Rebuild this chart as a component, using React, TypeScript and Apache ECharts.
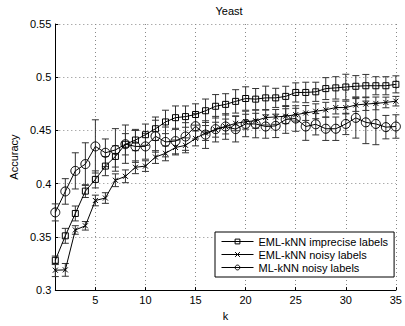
import React, { useEffect, useRef } from "react";
import * as echarts from "echarts";

const kValues = [1, 2, 3, 4, 5, 6, 7, 8, 9, 10, 11, 12, 13, 14, 15, 16, 17, 18, 19, 20, 21, 22, 23, 24, 25, 26, 27, 28, 29, 30, 31, 32, 33, 34, 35];

const impreciseMean = [0.328, 0.351, 0.372, 0.393, 0.404, 0.4165, 0.4256, 0.437, 0.441, 0.446, 0.4516, 0.458, 0.462, 0.463, 0.465, 0.4685, 0.4727, 0.4745, 0.4773, 0.48, 0.4794, 0.4806, 0.4806, 0.482, 0.4857, 0.4857, 0.4863, 0.4893, 0.49, 0.4908, 0.4915, 0.492, 0.492, 0.492, 0.4933];
const impreciseErr = [0.004, 0.007, 0.007, 0.006, 0.008, 0.009, 0.01, 0.01, 0.01, 0.01, 0.011, 0.011, 0.011, 0.01, 0.01, 0.011, 0.011, 0.01, 0.011, 0.011, 0.01, 0.011, 0.009, 0.0095, 0.009, 0.0096, 0.009, 0.0103, 0.0105, 0.012, 0.01, 0.0106, 0.0085, 0.0085, 0.008];

const noisyMean = [0.3187, 0.319, 0.3565, 0.3604, 0.3842, 0.3865, 0.4032, 0.4069, 0.4154, 0.4165, 0.425, 0.4285, 0.434, 0.436, 0.4425, 0.4476, 0.4507, 0.4537, 0.4567, 0.4582, 0.4591, 0.4621, 0.4627, 0.4634, 0.4648, 0.4664, 0.468, 0.4694, 0.4715, 0.4715, 0.4739, 0.4748, 0.4754, 0.4763, 0.4775];
const noisyErr = [0.006, 0.006, 0.004, 0.004, 0.005, 0.005, 0.006, 0.006, 0.006, 0.005, 0.006, 0.007, 0.007, 0.007, 0.007, 0.007, 0.007, 0.007, 0.007, 0.007, 0.007, 0.007, 0.007, 0.007, 0.006, 0.007, 0.007, 0.007, 0.006, 0.006, 0.006, 0.006, 0.006, 0.005, 0.0045];

const mlMean = [0.373, 0.3927, 0.412, 0.4184, 0.435, 0.429, 0.4317, 0.4371, 0.435, 0.435, 0.4446, 0.4392, 0.44, 0.4443, 0.454, 0.4461, 0.4512, 0.4537, 0.4512, 0.4561, 0.4561, 0.4537, 0.4543, 0.4603, 0.4612, 0.4537, 0.4558, 0.4516, 0.4516, 0.4561, 0.4618, 0.4576, 0.4561, 0.4531, 0.4537];
const mlErr = [0.008, 0.012, 0.017, 0.02, 0.025, 0.013, 0.02, 0.018, 0.015, 0.012, 0.015, 0.014, 0.012, 0.013, 0.012, 0.013, 0.012, 0.012, 0.012, 0.012, 0.013, 0.011, 0.011, 0.013, 0.012, 0.013, 0.01, 0.011, 0.011, 0.01, 0.019, 0.02, 0.0195, 0.011, 0.011];

const xTicks = [5, 10, 15, 20, 25, 30, 35];
const seriesNames = ["EML-kNN imprecise labels", "EML-kNN noisy labels", "ML-kNN noisy labels"];

const FONT = "'Liberation Sans', Arial, Helvetica, sans-serif";

function errData(mean: number[], err: number[]) {
  return kValues.map((k, i) => [k, mean[i], mean[i] - err[i], mean[i] + err[i]]);
}

function renderErr(params: any, api: any) {
  const x = api.value(0);
  const lo = api.coord([x, api.value(2)]);
  const hi = api.coord([x, api.value(3)]);
  const cap = 3.5;
  const style = { stroke: "#333", lineWidth: 1, fill: "none" };
  return {
    type: "group",
    children: [
      { type: "line", shape: { x1: lo[0], y1: lo[1], x2: hi[0], y2: hi[1] }, style },
      { type: "line", shape: { x1: lo[0] - cap, y1: lo[1], x2: lo[0] + cap, y2: lo[1] }, style },
      { type: "line", shape: { x1: hi[0] - cap, y1: hi[1], x2: hi[0] + cap, y2: hi[1] }, style },
    ],
  };
}

export default function App() {
  const ref = useRef<HTMLDivElement>(null);
  useEffect(() => {
    if (!ref.current) return;
    const chart = echarts.init(ref.current, null, { renderer: "svg" });
    const lineCommon = (name: string, data: number[], symbol: string, size: number) => ({
      name,
      type: "line",
      data: kValues.map((k, i) => [k, data[i]]),
      symbol,
      symbolSize: size,
      z: 5,
      lineStyle: { color: "#000", width: 1 },
      itemStyle: { color: "transparent", borderColor: "#000", borderWidth: 1 },
      emphasis: { disabled: true },
    });
    chart.setOption({
      animation: false,
      title: {
        text: "Yeast",
        left: 224,
        textAlign: "center",
        top: 0,
        textStyle: { fontFamily: FONT, fontSize: 11, fontWeight: "normal", color: "#000" },
      },
      grid: { left: 48, right: 6, top: 24, bottom: 26, containLabel: false },
      legend: {
        orient: "vertical",
        left: 215,
        top: 232,
        data: seriesNames,
        backgroundColor: "#fff",
        borderColor: "#000",
        borderWidth: 1,
        borderRadius: 0,
        padding: [4, 6, 4, 6],
        itemGap: 2,
        itemWidth: 32,
        itemHeight: 6,
        itemStyle: { borderWidth: 1 },
        lineStyle: { width: 1 },
        textStyle: { fontFamily: FONT, fontSize: 11, color: "#000" },
      },
      xAxis: {
        type: "value",
        min: 1,
        max: 35,
        name: "k",
        nameLocation: "middle",
        nameGap: 14,
        nameTextStyle: { fontFamily: FONT, fontSize: 11, color: "#000" },
        axisLine: { onZero: false, lineStyle: { color: "#000", width: 1 } },
        axisTick: { inside: true, length: 3, customValues: xTicks, lineStyle: { color: "#000" } },
        axisLabel: { customValues: xTicks, margin: 4, fontFamily: FONT, fontSize: 11, color: "#000" },
        splitLine: { show: true, lineStyle: { type: [1, 3], color: "#888", width: 1 } },
      },
      yAxis: {
        type: "value",
        min: 0.3,
        max: 0.55,
        interval: 0.05,
        name: "Accuracy",
        nameLocation: "middle",
        nameGap: 33,
        nameTextStyle: { fontFamily: FONT, fontSize: 11, color: "#000" },
        axisLine: { show: true, lineStyle: { color: "#000", width: 1 } },
        axisTick: { show: true, inside: true, length: 3, lineStyle: { color: "#000" } },
        axisLabel: {
          margin: 4,
          fontFamily: FONT,
          fontSize: 11,
          color: "#000",
          formatter: (v: number) => String(parseFloat(v.toFixed(2))),
        },
        splitLine: { show: true, lineStyle: { type: [1, 3], color: "#888", width: 1 } },
      },
      series: [
        { type: "custom", name: "err1", data: errData(impreciseMean, impreciseErr), renderItem: renderErr, z: 2, silent: true },
        { type: "custom", name: "err2", data: errData(noisyMean, noisyErr), renderItem: renderErr, z: 2, silent: true },
        { type: "custom", name: "err3", data: errData(mlMean, mlErr), renderItem: renderErr, z: 2, silent: true },
        lineCommon(seriesNames[0], impreciseMean, "rect", 6),
        lineCommon(seriesNames[1], noisyMean, "path://M0,0L10,10M10,0L0,10", 5),
        lineCommon(seriesNames[2], mlMean, "circle", 9),
      ],
    });
    return () => chart.dispose();
  }, []);
  return <div ref={ref} style={{ position: "absolute", left: 0, top: 0, width: 405, height: 326, background: "#fff" }} />;
}
